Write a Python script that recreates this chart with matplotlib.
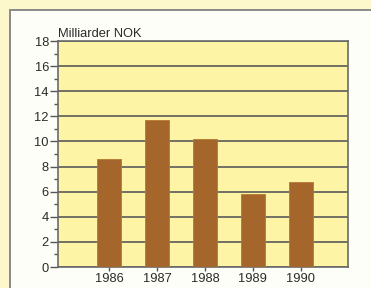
import matplotlib
matplotlib.use("Agg")
import matplotlib.pyplot as plt
from matplotlib.patches import Rectangle

# Data
years = ['1986', '1987', '1988', '1989', '1990']
values = [8.6, 11.7, 10.2, 5.8, 6.8]
yticks = [0, 2, 4, 6, 8, 10, 12, 14, 16, 18]

plt.rcParams['font.family'] = ['Liberation Sans', 'DejaVu Sans']

W, H = 371, 288
fig = plt.figure(figsize=(W / 100, H / 100), dpi=100)
fig.patch.set_facecolor('#fcf8cc')

# white inner frame
frame = Rectangle((10 / W, -0.1), 1.2, (H - 10) / H + 0.1, transform=fig.transFigure,
                  facecolor='#fefef8', edgecolor='#8a8a8a', linewidth=1.4, zorder=-5)
fig.patches.append(frame)

ax = fig.add_axes([58 / W, 21 / H, 290 / W, 226 / H])
ax.set_zorder(2)
ax.set_facecolor('#fdf4a6')

x = range(len(years))
ax.bar(x, values, width=0.5, color='#a5662b', edgecolor='#b8782e', linewidth=0.6, zorder=3)

ax.set_xlim(-1.06, 4.98)
ax.set_ylim(0, 18)
ax.set_xticks(list(x))
ax.set_xticklabels(years)
ax.set_yticks(yticks)
ax.set_yticks(range(1, 18, 2), minor=True)

ax.grid(axis='y', color='#5a5a5a', linewidth=1.2, zorder=1)
ax.set_axisbelow(True)
for s in ax.spines.values():
    s.set_color('#6a6a6a')
    s.set_linewidth(1.2)

ax.tick_params(axis='y', which='major', direction='out', length=6, width=1, color='#555555',
               labelsize=9.3, labelcolor='#2a2a2a', pad=0.5)
ax.tick_params(axis='y', which='minor', direction='out', length=3, width=1, color='#555555')
ax.tick_params(axis='x', direction='out', length=3, width=1, color='#555555',
               labelsize=9.3, labelcolor='#2a2a2a', pad=1.5)

fig.text(58 / W, 1 - 37 / H, 'Milliarder NOK', fontsize=9.3, color='#2a2a2a',
         ha='left', va='baseline', zorder=3)

fig.savefig('out.png', dpi=100, facecolor=fig.get_facecolor())
